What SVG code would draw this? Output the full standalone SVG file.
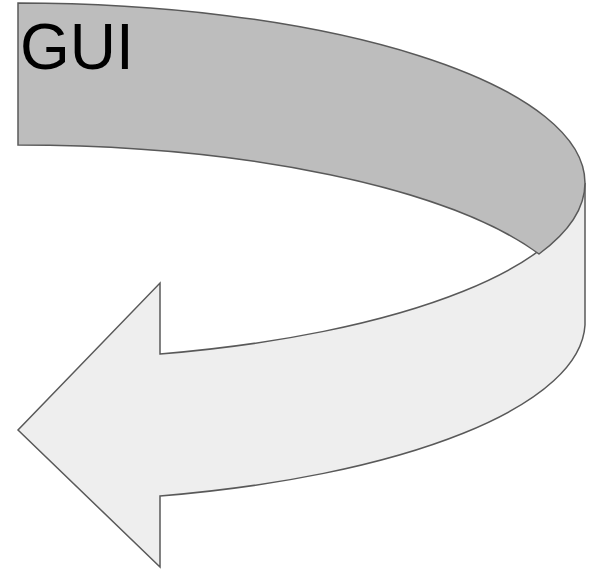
<svg xmlns="http://www.w3.org/2000/svg" width="595" height="570" viewBox="0 0 595 570">
<style>
.s{stroke:#595959;stroke-width:1.5;stroke-linejoin:miter}
.top{fill:#bdbdbd}
.front{fill:#eeeeee}
.t{font-family:"Liberation Sans",Arial,sans-serif;font-size:64px;fill:#000}
</style>
<rect width="595" height="570" fill="#ffffff"/>
<g id="arrow">
<path class="s front" d="M585,183 A567,180 0 0 1 160,354 L160,283 L18,430 L160,567 L160,496 A567,180 0 0 0 585,325 Z"/>
<path class="s top" d="M18,3 A567,180 0 0 1 585,183 A567,180 0 0 1 539,254 A567,180 0 0 0 18,145 Z"/>
<text class="t" x="20" y="69">GUI</text>
</g>
</svg>
